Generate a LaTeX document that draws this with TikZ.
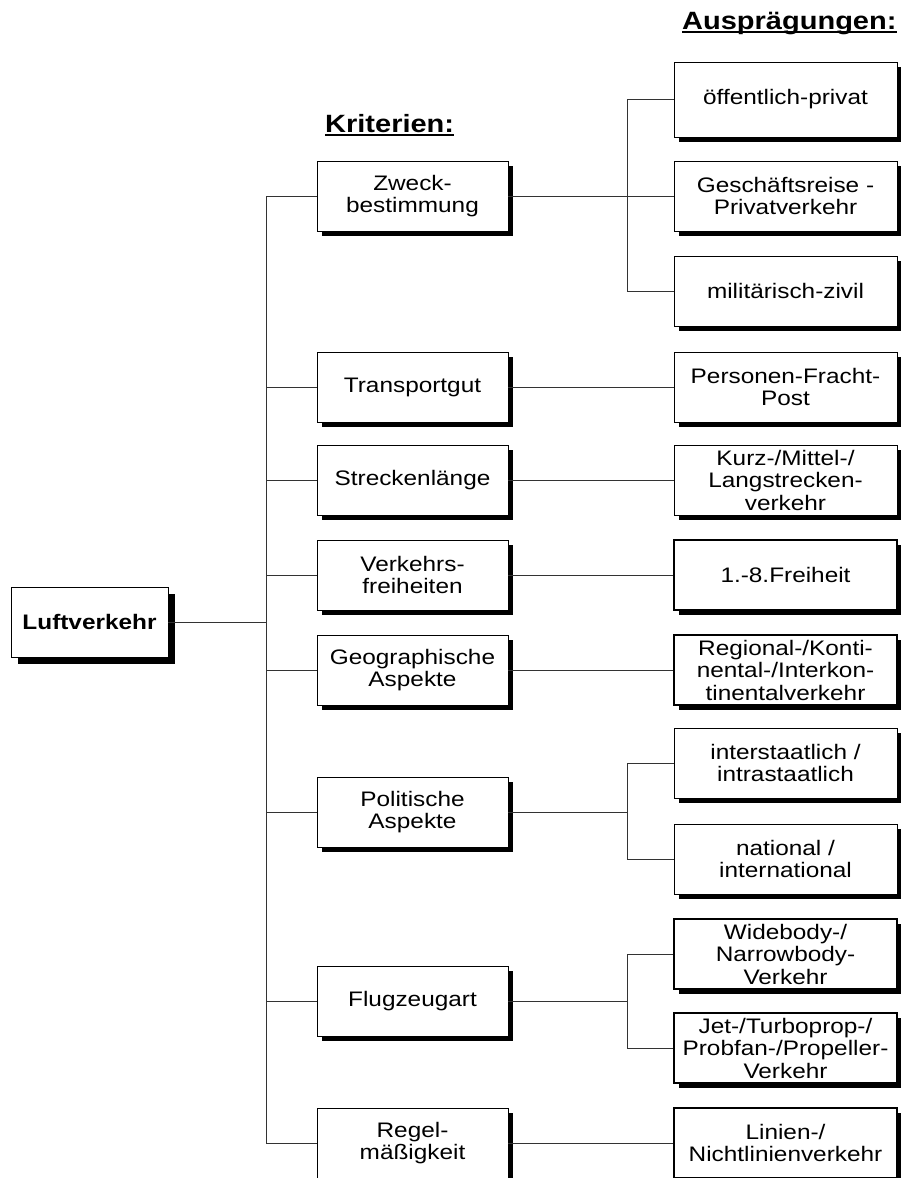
\documentclass[tikz,border=0pt]{standalone}
\usepackage{fontspec}
\setmainfont{Liberation Sans}[FakeStretch=1.16]
\usetikzlibrary{shadows}
\begin{document}
\begin{tikzpicture}[x=1pt,y=-1pt,
  boxbase/.style={draw=black, line width=0.9pt, fill=white, align=center,
    inner sep=0pt, font=\fontsize{21}{22.5}\selectfont},
  shade5/.style={drop shadow={shadow xshift=5pt, shadow yshift=-5pt,
    fill=black, opacity=1}},
  crit/.style={boxbase, shade5, minimum width=191pt, minimum height=70pt},
  value/.style={boxbase, shade5, minimum width=223pt, minimum height=70pt},
  heavy/.style={line width=1.8pt},
  link/.style={draw=black!80, line width=1pt},
  heading/.style={font=\fontsize{25}{28}\selectfont\bfseries, inner sep=0pt,
    anchor=base west}]

\fill[white] (0,0) rectangle (901,1178);
\useasboundingbox (0,0) rectangle (901,1178);

% headings
\node[heading] (krit) at (325,132) {Kriterien:};
\draw[line width=2pt] ([yshift=-3pt]krit.base west) -- ([yshift=-3pt]krit.base east);
\node[heading] (auspr) at (682,29) {Ausprägungen:};
\draw[line width=2pt] ([yshift=-3pt]auspr.base west) -- ([yshift=-3pt]auspr.base east);

% root
\node[boxbase, font=\fontsize{21}{22.5}\selectfont\bfseries,
  minimum width=157pt, minimum height=70pt,
  drop shadow={shadow xshift=7pt, shadow yshift=-7pt, fill=black, opacity=1}]
  (luft) at (89.5,622) {Luftverkehr};

% criteria
\node[crit] (zweck)     at (412.5,196)  {Zweck-\\bestimmung};
\node[crit] (transport) at (412.5,387)  {Transportgut};
\node[crit] (strecke)   at (412.5,480)  {Streckenlänge};
\node[crit] (freiheit)  at (412.5,575)  {Verkehrs-\\freiheiten};
\node[crit] (geo)       at (412.5,670)  {Geographische\\Aspekte};
\node[crit] (polit)     at (412.5,812)  {Politische\\Aspekte};
\node[crit] (flug)      at (412.5,1001) {Flugzeugart};
\node[crit] (regel)     at (412.5,1143) {Regel-\\mäßigkeit};

% characteristics
\node[value, minimum height=75pt] (oeff) at (785.5,99.5) {öffentlich-privat};
\node[value] (gesch)    at (785.5,196)  {Geschäftsreise -\\Privatverkehr};
\node[value] (mil)      at (785.5,291)  {militärisch-zivil};
\node[value] (pers)     at (785.5,387)  {Personen-Fracht-\\Post};
\node[value] (kurz)     at (785.5,480)  {Kurz-/Mittel-/\\Langstrecken-\\verkehr};
\node[value, heavy] (frei8) at (785.5,575) {1.-8.Freiheit};
\node[value, heavy] (regio) at (785.5,670) {Regional-/Konti-\\nental-/Interkon-\\tinentalverkehr};
\node[value] (inter)    at (785.5,763)  {interstaatlich /\\intrastaatlich};
\node[value] (nat)      at (785.5,859)  {national /\\international};
\node[value, heavy] (wide) at (785.5,954)  {Widebody-/\\Narrowbody-\\Verkehr};
\node[value, heavy] (jet)  at (785.5,1048) {Jet-/Turboprop-/\\Probfan-/Propeller-\\Verkehr};
\node[value, heavy] (linie) at (785.5,1143) {Linien-/\\Nichtlinienverkehr};

% trunk and branch lines
\coordinate (ttop) at (266,196);
\coordinate (tbot) at (266,1143);
\coordinate (br) at (627,0);
\draw[link] (luft.east) -- (luft.east -| ttop);
\draw[link] (ttop) -- (tbot);
\foreach \n in {zweck,transport,strecke,freiheit,geo,polit,flug,regel}
  \draw[link] (\n.west -| ttop) -- (\n.west);

% single links
\draw[link] (zweck.east) -- (gesch.west);
\draw[link] (transport.east) -- (pers.west);
\draw[link] (strecke.east) -- (kurz.west);
\draw[link] (freiheit.east) -- (frei8.west);
\draw[link] (geo.east) -- (regio.west);
\draw[link] (regel.east) -- (linie.west);

% brackets
\draw[link] (oeff.west) -- (oeff.west -| br) -- (mil.west -| br) -- (mil.west);
\draw[link] (polit.east) -- (polit.east -| br);
\draw[link] (inter.west) -- (inter.west -| br) -- (nat.west -| br) -- (nat.west);
\draw[link] (flug.east) -- (flug.east -| br);
\draw[link] (wide.west) -- (wide.west -| br) -- (jet.west -| br) -- (jet.west);
\end{tikzpicture}
\end{document}
